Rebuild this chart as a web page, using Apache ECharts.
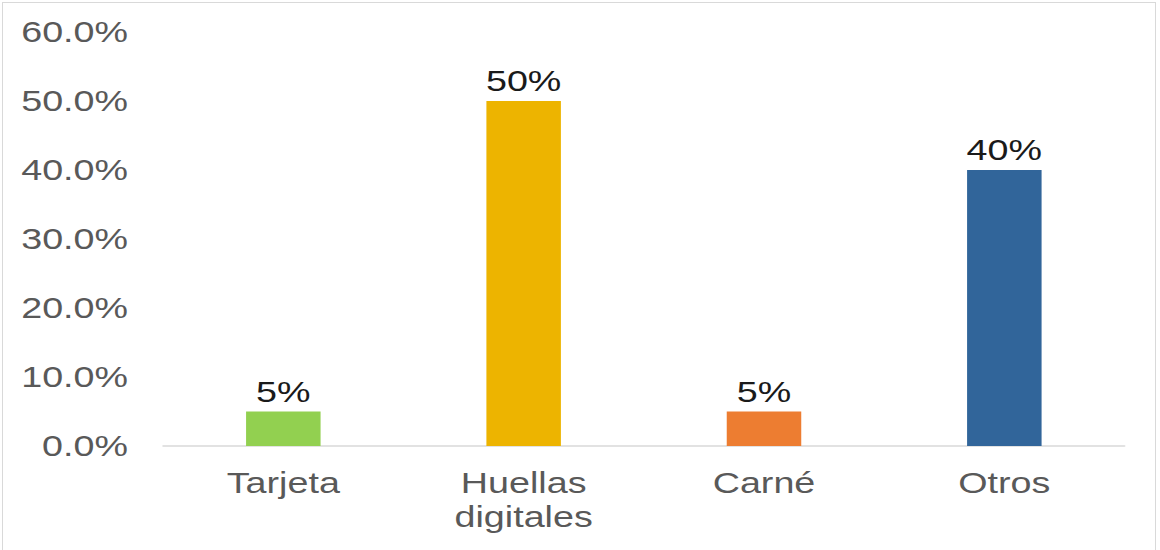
<!DOCTYPE html>
<html>
<head>
<meta charset="utf-8">
<script src="https://cdn.jsdelivr.net/npm/echarts@6/dist/echarts.min.js"></script>
<style>
  html, body { margin: 0; padding: 0; background: #fff; overflow: hidden; }
  #frame { position: absolute; left: 2px; top: 2px; width: 1154px; height: 560px; border: 1px solid #d9d9d9; box-sizing: border-box; }
  /* The chart is laid out narrower and widened horizontally, giving the broad lettering */
  #chart { position: absolute; left: 0; top: 0; width: 892px; height: 550px; transform: scaleX(1.3); transform-origin: 0 0; }
</style>
</head>
<body>
<div id="frame"></div>
<div id="chart"></div>
<script>
// Categories and shares (percent)
const categories = ['Tarjeta', 'Huellas\ndigitales', 'Carné', 'Otros'];
const shares = [5, 50, 5, 40];
const barColors = ['#92D050', '#EDB400', '#ED7D31', '#31659A'];

const chart = echarts.init(document.getElementById('chart'), null, { renderer: 'svg' });
const font = '"Liberation Sans", Arial, sans-serif';

chart.setOption({
  animation: false,
  grid: { left: 125.5, right: 27, top: 32, bottom: 104, containLabel: false },
  xAxis: {
    type: 'category',
    data: categories,
    axisLine: { show: true, lineStyle: { color: '#d9d9d9', width: 1.5 } },
    axisTick: { show: false },
    axisLabel: {
      color: '#595959', fontSize: 29, fontFamily: font,
      margin: 20, lineHeight: 34, interval: 0
    }
  },
  yAxis: {
    type: 'value',
    min: 0, max: 60, interval: 10,
    axisLine: { show: false },
    axisTick: { show: false },
    splitLine: { show: false },
    axisLabel: {
      color: '#595959', fontSize: 29, fontFamily: font, margin: 27,
      formatter: v => v.toFixed(1) + '%'
    }
  },
  series: [{
    type: 'bar',
    barWidth: '31%',
    data: shares.map((v, i) => ({ value: v, itemStyle: { color: barColors[i] } })),
    label: {
      show: true, position: 'top', distance: 5,
      color: '#1a1a1a', fontSize: 29, fontFamily: font,
      formatter: p => p.value + '%'
    }
  }]
});
</script>
</body>
</html>
